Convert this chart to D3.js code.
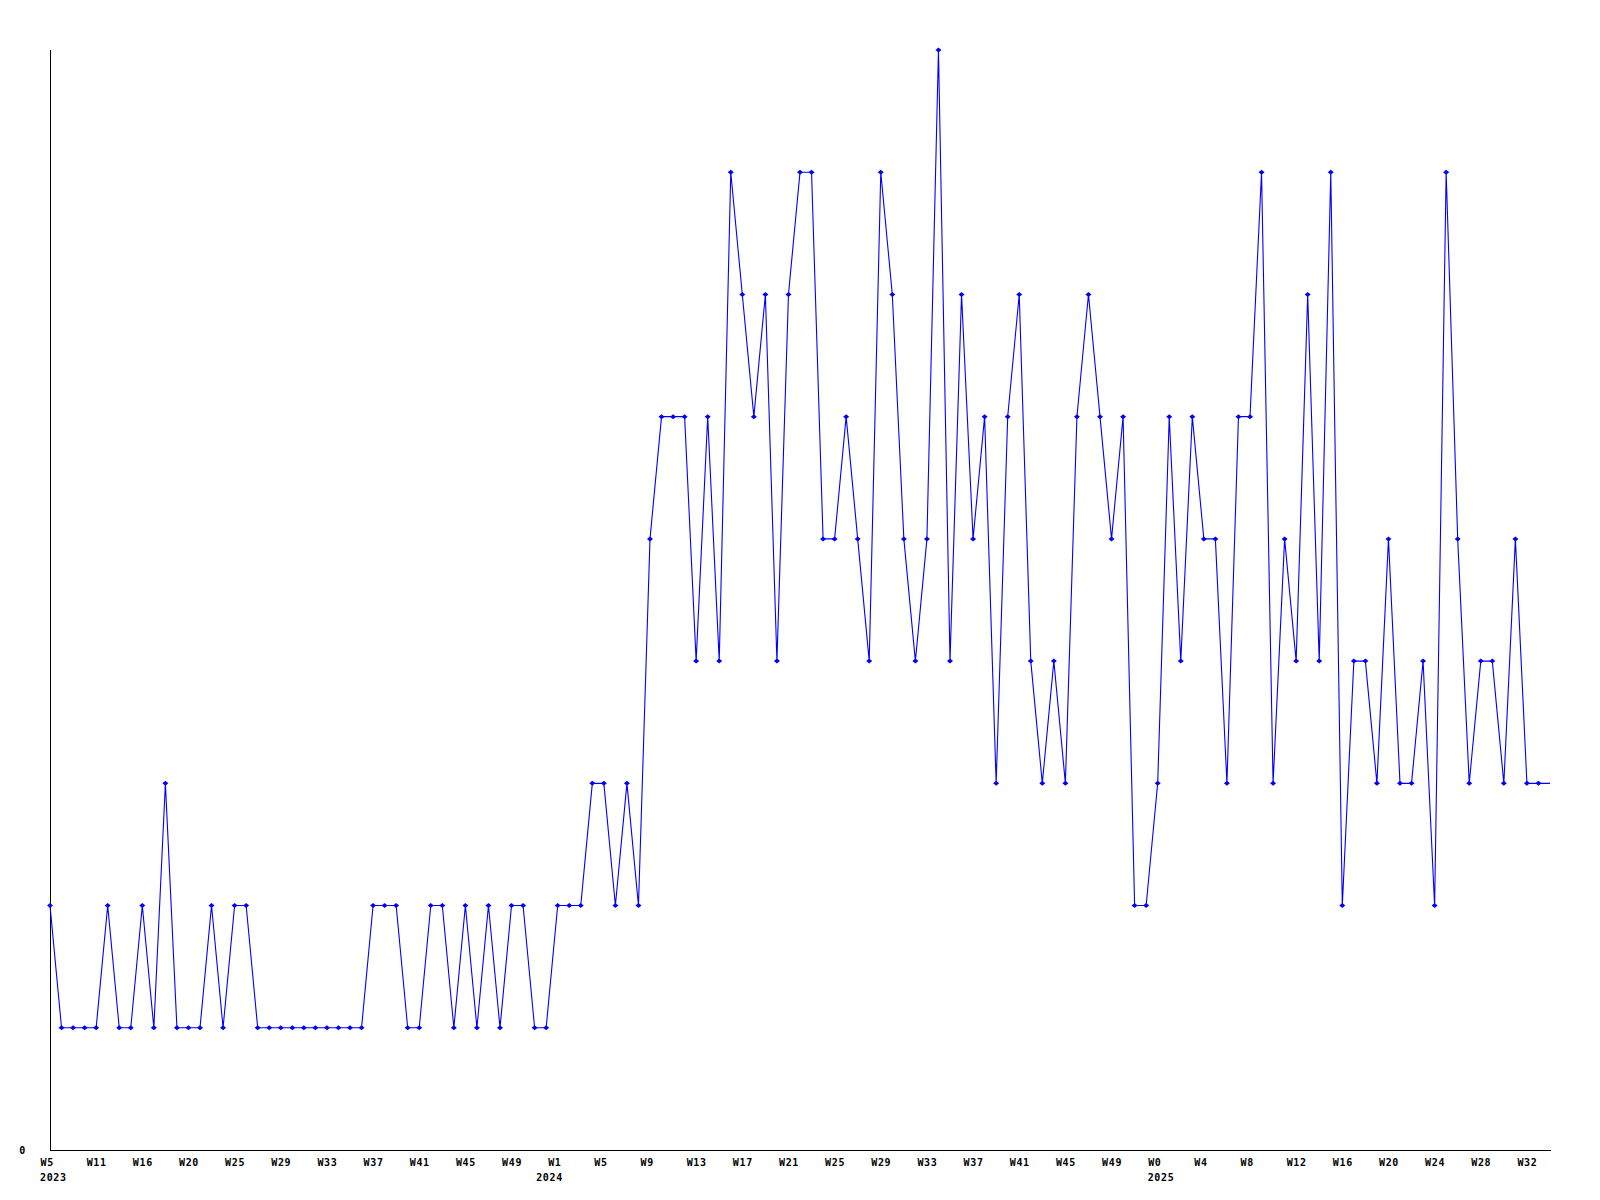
<!DOCTYPE html>
<html>
<head>
<meta charset="utf-8">
<script src="https://cdn.jsdelivr.net/npm/d3@7/dist/d3.min.js"></script>
<style>
  html, body { margin: 0; padding: 0; background: #fff; }
  svg { display: block; }
  text { font-family: "DejaVu Sans Mono", "Liberation Mono", monospace; font-weight: bold; font-size: 10px; letter-spacing: 0.65px; fill: #000; }
</style>
</head>
<body>
<svg id="chart" width="1600" height="1200"></svg>
<script>
// Weekly values (one per point, left to right)
const values = [
  2,1,1,1,1,2,1,1,2,1,
  3,1,1,1,2,1,2,2,1,1,
  1,1,1,1,1,1,1,1,2,2,
  2,1,1,2,2,1,2,1,2,1,
  2,2,1,1,2,2,2,3,3,2,
  3,2,5,6,6,6,4,6,4,8,
  7,6,7,4,7,8,8,5,5,6,
  5,4,8,7,5,4,5,9,4,7,
  5,6,3,6,7,4,3,4,3,6,
  7,6,5,6,2,2,3,6,4,6,
  5,5,3,6,6,8,3,5,4,7,
  4,8,2,4,4,3,5,3,3,4,
  2,8,5,3,4,4,3,5,3,3,
  3
];
// Week tick labels, one every 4 points
const weekLabels = ["W5","W11","W16","W20","W25","W29","W33","W37","W41","W45","W49",
  "W1","W5","W9","W13","W17","W21","W25","W29","W33","W37","W41","W45","W49",
  "W0","W4","W8","W12","W16","W20","W24","W28","W32"];
const labelStep = 4;
// Year labels and the point index where they start
const yearLabels = ["2023","2024","2025"];
const yearIndex = [0, 43, 96];
const yTicks = [0];

(function () {
const svg = d3.select("#chart");
const mLeft = 50, mRight = 1550, mTop = 50, mBottom = 1150;

const idx = d3.range(values.length);
const x = d3.scalePoint().domain(idx).range([mLeft, mRight]);
const y = d3.scaleLinear().domain([0, 9]).range([mBottom, mTop]);

// X axis
const tickIdx = weekLabels.map((d, i) => i * labelStep);
const xAxis = d3.axisBottom(x).tickValues(tickIdx).tickSize(0)
  .tickFormat(d => weekLabels[d / labelStep]);
const gx = svg.append("g").attr("transform", `translate(0,${mBottom})`).call(xAxis);
gx.select(".domain").remove();
gx.selectAll("text").attr("text-anchor", "start").attr("x", -10).attr("y", 16).attr("dy", null)
  .attr("fill", "#000");
gx.attr("font-size", null).attr("font-family", null);

// Year labels
svg.append("g").selectAll("text").data(yearLabels).join("text")
  .attr("x", (d, i) => x(yearIndex[i]) - 10)
  .attr("y", mBottom + 31)
  .text(d => d);

// Y axis
const yAxis = d3.axisLeft(y).tickValues(yTicks).tickSize(0).tickPadding(24);
const gy = svg.append("g").attr("transform", `translate(${mLeft},0)`).call(yAxis);
gy.select(".domain").remove();
gy.selectAll("text").attr("dy", "0.35em").attr("fill", "#000");
gy.attr("font-size", null).attr("font-family", null);

// Axis lines
svg.append("line").attr("x1", mLeft + 0.5).attr("x2", mLeft + 0.5).attr("y1", mTop).attr("y2", mBottom + 0.5)
  .attr("stroke", "#000").attr("stroke-width", 1).attr("shape-rendering", "crispEdges");
svg.append("line").attr("x1", mLeft).attr("x2", mRight + 1).attr("y1", mBottom + 0.5).attr("y2", mBottom + 0.5)
  .attr("stroke", "#000").attr("stroke-width", 1).attr("shape-rendering", "crispEdges");

// Line
const line = d3.line().x((d, i) => x(i)).y(d => y(d));
svg.append("path").datum(values).attr("d", line)
  .attr("fill", "none").attr("stroke", "#0000ff").attr("stroke-width", 1.1);

// Markers (last, incomplete week has none)
svg.append("g").selectAll("path").data(values.slice(0, values.length - 1)).join("path")
  .attr("d", (d, i) => {
    const cx = x(i), cy = y(d);
    return `M${cx - 3},${cy} L${cx},${cy - 2.5} L${cx + 3},${cy} L${cx},${cy + 2.5} Z`;
  })
  .attr("fill", "#0000ff");
})();
</script>
</body>
</html>
